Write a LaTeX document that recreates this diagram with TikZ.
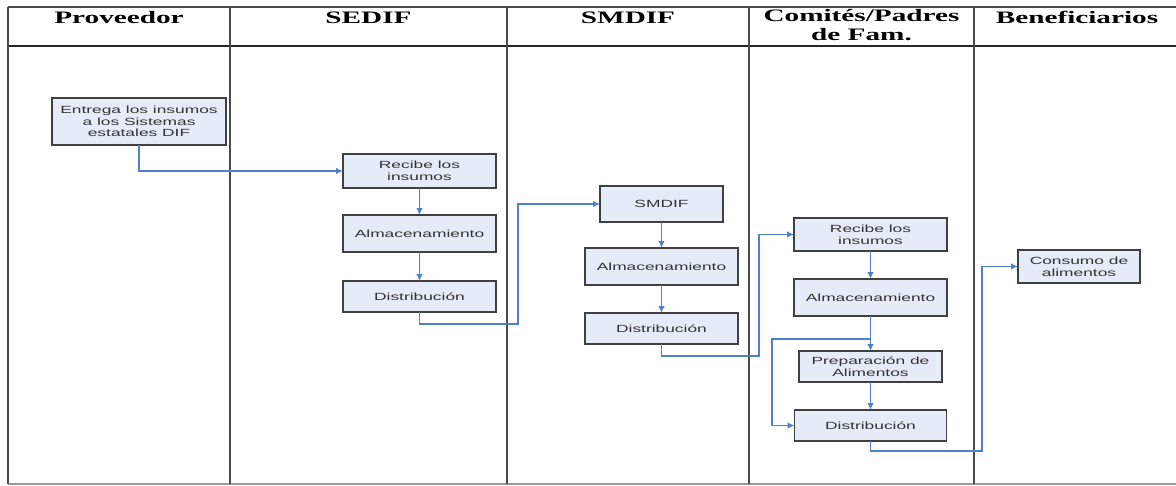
\documentclass[tikz,border=0pt]{standalone}
\usepackage{fontspec}
\setmainfont{Liberation Serif}
\newfontfamily\boxfont[FakeStretch=1.67]{Liberation Sans}
\newfontfamily\headfont[FakeStretch=1.67]{Liberation Serif}
\usetikzlibrary{arrows.meta}
\definecolor{boxfill}{HTML}{E6ECF7}
\definecolor{boxline}{HTML}{404040}
\definecolor{boxtext}{HTML}{333333}
\definecolor{flowblue}{HTML}{4F81C9}
\definecolor{laneline}{HTML}{4A4A4A}
\begin{document}
\begin{tikzpicture}[x=1pt,y=-1pt,inner sep=0pt,outer sep=0pt,>={Latex[length=7pt,width=6.5pt]},
stepbox/.style={draw=boxline,fill=boxfill,rectangle,line width=1.6pt,align=center,text=boxtext,font=\boxfont\fontsize{10.4}{11.7}\selectfont},
lanetitle/.style={align=center,anchor=base,font=\headfont\bfseries\fontsize{17.5}{18.5}\selectfont},
flow/.style={->,draw=flowblue,line width=1.2pt}]

\useasboundingbox (0,0) rectangle (1176,485);
\fill[white] (0,0) rectangle (1176,485);

\draw[line width=1.4pt,draw=laneline] (8,7) -- (1176,7);
\draw[line width=1.4pt,draw=black!85] (8,46) -- (1176,46);
\draw[line width=1.2pt,draw=black!40] (8,484) -- (1176,484);
\draw[line width=2pt,draw=laneline] (8,7) -- (8,484);
\draw[line width=2pt,draw=laneline] (230,7) -- (230,484);
\draw[line width=2pt,draw=laneline] (507,7) -- (507,484);
\draw[line width=2pt,draw=laneline] (749,7) -- (749,484);
\draw[line width=2pt,draw=laneline] (974,7) -- (974,484);

\draw (119,23) node[lanetitle] (tprov) {Proveedor};
\draw (368.5,23) node[lanetitle] (tsedif) {SEDIF};
\draw (628,23) node[lanetitle] (tsmdif) {SMDIF};
\draw (861.5,40) node[lanetitle] (tcomite) {Comités/Padres\\de Fam.};
\draw (1077,23) node[lanetitle] (tbenef) {Beneficiarios};

\draw (139,121.5) node[stepbox,minimum width=174pt,minimum height=47pt] (entrega) {Entrega los insumos\\a los Sistemas\\estatales DIF};

\draw (419.5,171) node[stepbox,minimum width=153pt,minimum height=34pt] (recibeA) {Recibe los\\insumos};
\draw (419.5,233.5) node[stepbox,minimum width=153pt,minimum height=37pt] (almA) {Almacenamiento};
\draw (419.5,296.5) node[stepbox,minimum width=153pt,minimum height=31pt] (distA) {Distribución};

\draw (661.5,204) node[stepbox,minimum width=123pt,minimum height=36pt] (smdif) {SMDIF};
\draw (661.5,266.5) node[stepbox,minimum width=153pt,minimum height=37pt] (almB) {Almacenamiento};
\draw (661.5,328.5) node[stepbox,minimum width=153pt,minimum height=31pt] (distB) {Distribución};

\draw (870.5,234.5) node[stepbox,minimum width=153pt,minimum height=33pt] (recibeC) {Recibe los\\insumos};
\draw (870.5,297.5) node[stepbox,minimum width=153pt,minimum height=37pt] (almC) {Almacenamiento};
\draw (870.5,366.5) node[stepbox,minimum width=143pt,minimum height=31pt] (prepC) {Preparación de\\Alimentos};
\draw (870.5,425.5) node[stepbox,minimum width=152pt,minimum height=31pt] (distC) {Distribución};

\draw (1079,266.5) node[stepbox,minimum width=122pt,minimum height=33pt] (consumo) {Consumo de\\alimentos};

\coordinate (jogA) at (518,324);
\coordinate (jogB) at (759,356);
\coordinate (jogC) at (772,339);
\coordinate (jogD) at (982,451);

\draw[flow] (entrega.south) |- (recibeA.west);
\draw[flow] (recibeA) -- (almA);
\draw[flow] (almA) -- (distA);
\draw[flow] (distA.south) |- (jogA) |- (smdif.west);
\draw[flow] (smdif) -- (almB);
\draw[flow] (almB) -- (distB);
\draw[flow] (distB.south) |- (jogB) |- (recibeC.west);
\draw[flow] (recibeC) -- (almC);
\draw[flow] (almC) -- (prepC);
\draw[flow] (prepC) -- (distC);
\draw[flow] (almC.south |- jogC) -- (jogC) |- (distC.west);
\draw[flow] (distC.south) |- (jogD) |- (consumo.west);
\end{tikzpicture}
\end{document}
